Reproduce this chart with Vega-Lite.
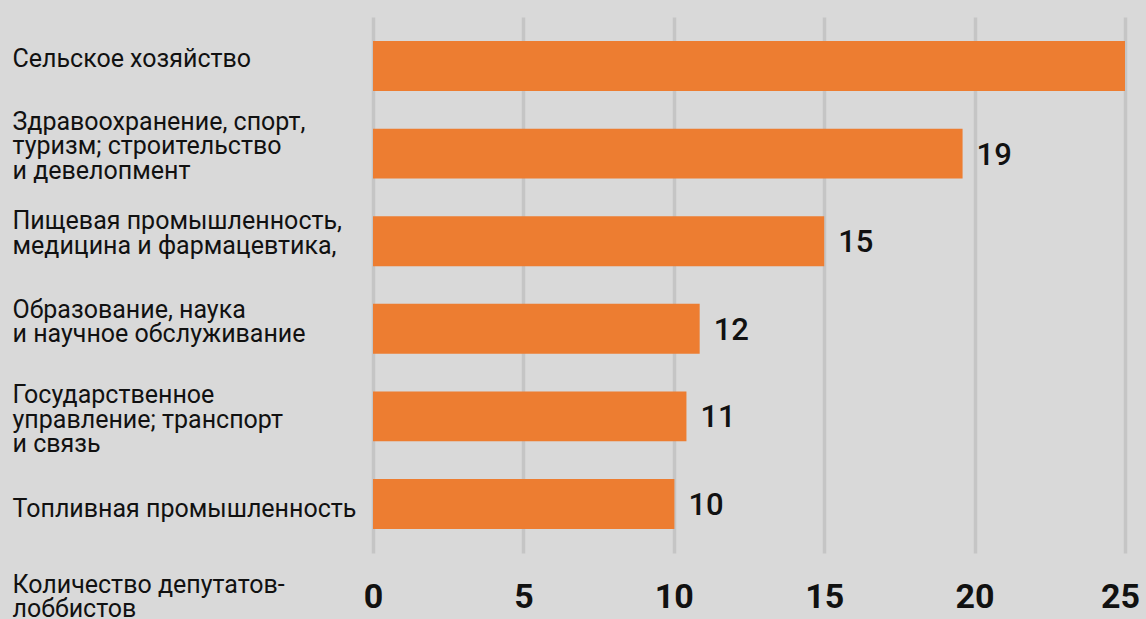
{
  "$schema": "https://vega.github.io/schema/vega-lite/v6.json",
  "autosize": "none",
  "width": 752,
  "height": 536,
  "padding": {"left": 373, "top": 17, "right": 21, "bottom": 66},
  "background": "#d9d9d9",
  "config": {"view": {"stroke": null}, "font": "Roboto"},
  "data": {
    "values": [
      {"category": "Сельское хозяйство", "value": 25, "label": ""},
      {"category": "Здравоохранение, спорт,|туризм; строительство|и девелопмент", "value": 19.6, "label": "19"},
      {"category": "Пищевая промышленность,|медицина и фармацевтика,", "value": 15, "label": "15"},
      {"category": "Образование, наука|и научное обслуживание", "value": 10.86, "label": "12"},
      {"category": "Государственное|управление; транспорт|и связь", "value": 10.42, "label": "11"},
      {"category": "Топливная промышленность", "value": 10.02, "label": "10"}
    ]
  },
  "encoding": {
    "y": {
      "field": "category",
      "type": "nominal",
      "sort": null,
      "scale": {"paddingInner": 0.43, "paddingOuter": 0.2745},
      "axis": {
        "title": null,
        "domain": false,
        "ticks": false,
        "grid": false,
        "labelAlign": "left",
        "labelBaseline": "middle",
        "labelPadding": 361,
        "labelFont": "Roboto",
        "labelFontSize": 25,
        "labelColor": "#111111",
        "labelLineHeight": 24.5,
        "labelLimit": 400,
        "labelExpr": "split(datum.label, '|')",
        "labelOffset": {
          "condition": [
            {"test": "indexof(datum.value, 'Сельское') == 0", "value": -7},
            {"test": "indexof(datum.value, 'Здраво') == 0", "value": -32},
            {"test": "indexof(datum.value, 'Пищевая') == 0", "value": -20},
            {"test": "indexof(datum.value, 'Образование') == 0", "value": -19},
            {"test": "indexof(datum.value, 'Государственное') == 0", "value": -21}
          ],
          "value": 5
        }
      }
    },
    "x": {
      "field": "value",
      "type": "quantitative",
      "scale": {"domain": [0, 25], "nice": false},
      "axis": {
        "values": [0, 5, 10, 15, 20, 25],
        "domain": false,
        "ticks": false,
        "grid": true,
        "gridColor": "#c5c5c5",
        "gridWidth": 3.5,
        "labelFont": "Roboto",
        "labelFontSize": 34,
        "labelFontWeight": "bold",
        "labelColor": "#111111",
        "labelBaseline": "alphabetic",
        "labelPadding": 54,
        "labelFlush": false,
        "labelOffset": {"condition": {"test": "datum.value == 25", "value": -5}, "value": 0},
        "title": ["Количество депутатов-", "лоббистов"],
        "titleFont": "Roboto",
        "titleFontSize": 25,
        "titleFontWeight": "normal",
        "titleColor": "#111111",
        "titleAlign": "left",
        "titleAnchor": "start",
        "titleBaseline": "alphabetic",
        "titleLineHeight": 24,
        "titleX": -361,
        "titleY": 39
      }
    }
  },
  "layer": [
    {"mark": {"type": "bar", "color": "#ed7d31"}},
    {
      "mark": {"type": "text", "align": "left", "baseline": "middle", "dx": 14, "dy": 2, "font": "Roboto", "fontSize": 31, "fontWeight": 500, "color": "#111111"},
      "encoding": {"text": {"field": "label"}}
    }
  ]
}
